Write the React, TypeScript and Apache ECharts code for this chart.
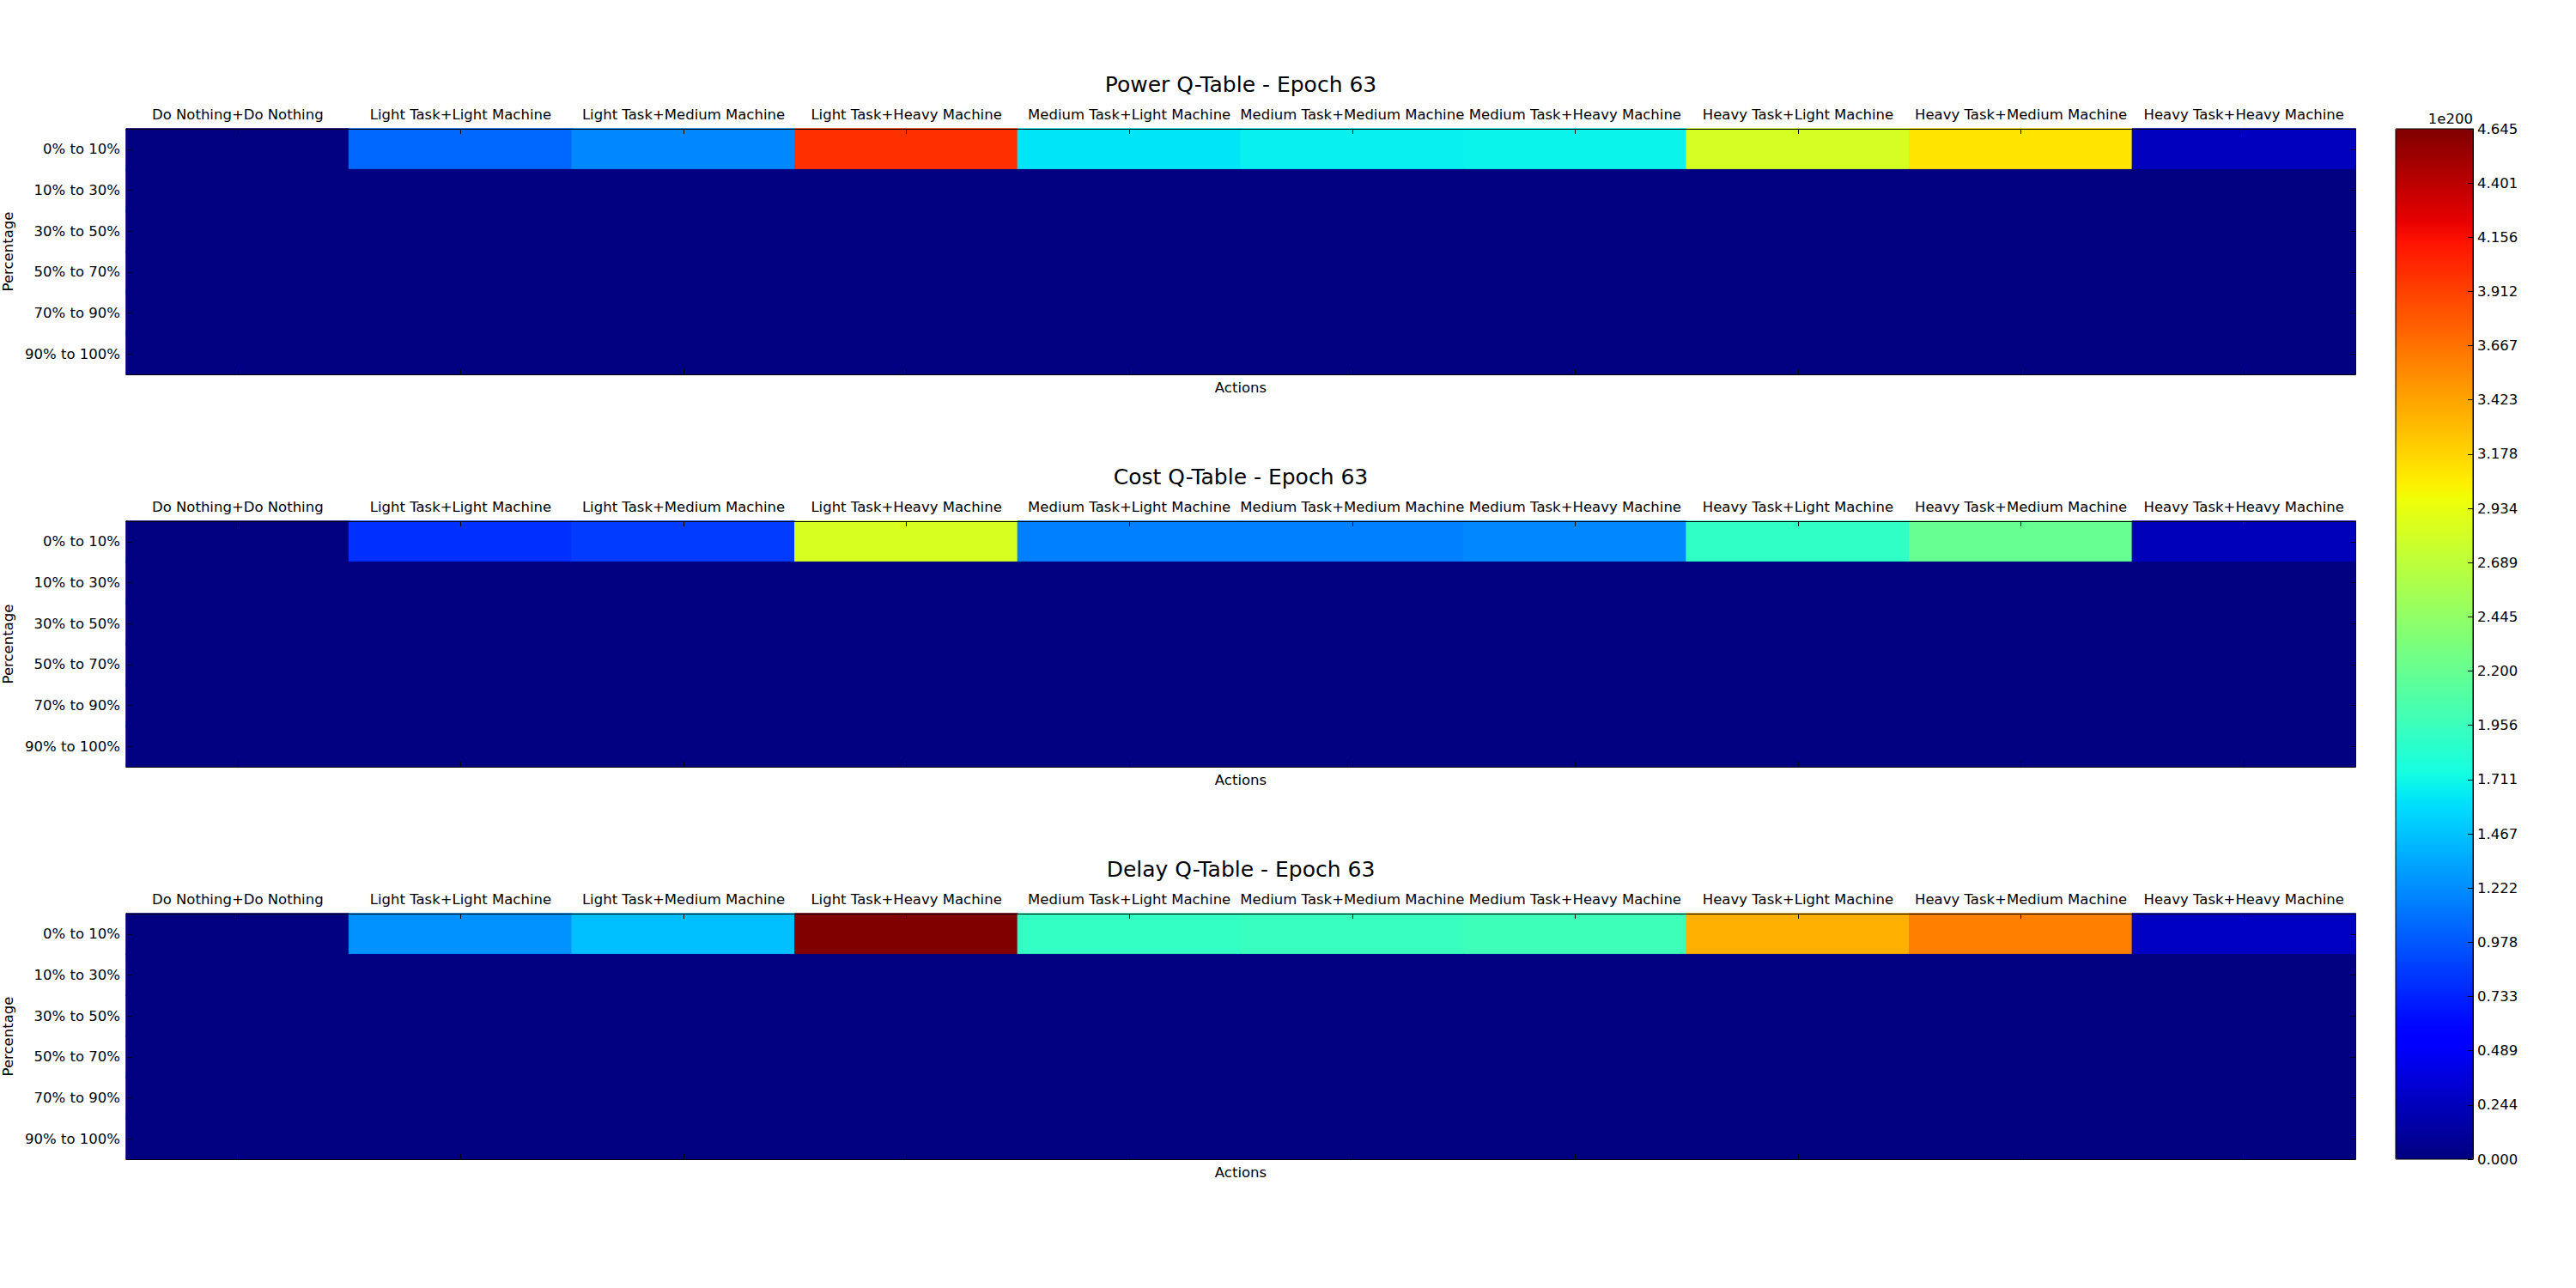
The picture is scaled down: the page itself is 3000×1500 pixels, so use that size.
import React, { useEffect, useRef } from "react";
import * as echarts from "echarts";

// ---------- DATA ----------
const ACTIONS = [
  "Do Nothing+Do Nothing",
  "Light Task+Light Machine",
  "Light Task+Medium Machine",
  "Light Task+Heavy Machine",
  "Medium Task+Light Machine",
  "Medium Task+Medium Machine",
  "Medium Task+Heavy Machine",
  "Heavy Task+Light Machine",
  "Heavy Task+Medium Machine",
  "Heavy Task+Heavy Machine",
];

const PERCENTAGES = ["0% to 10%", "10% to 30%", "30% to 50%", "50% to 70%", "70% to 90%", "90% to 100%"];

const TITLES = ["Power Q-Table - Epoch 63", "Cost Q-Table - Epoch 63", "Delay Q-Table - Epoch 63"];

// Values in units of 1e200
const POWER_Q = [
  [0, 1.05, 1.2, 3.99, 1.63, 1.67, 1.69, 2.83, 3.1, 0.25],
  [0, 0, 0, 0, 0, 0, 0, 0, 0, 0],
  [0, 0, 0, 0, 0, 0, 0, 0, 0, 0],
  [0, 0, 0, 0, 0, 0, 0, 0, 0, 0],
  [0, 0, 0, 0, 0, 0, 0, 0, 0, 0],
  [0, 0, 0, 0, 0, 0, 0, 0, 0, 0],
];

const COST_Q = [
  [0, 0.8, 0.85, 2.84, 1.16, 1.16, 1.2, 1.9, 2.2, 0.24],
  [0, 0, 0, 0, 0, 0, 0, 0, 0, 0],
  [0, 0, 0, 0, 0, 0, 0, 0, 0, 0],
  [0, 0, 0, 0, 0, 0, 0, 0, 0, 0],
  [0, 0, 0, 0, 0, 0, 0, 0, 0, 0],
  [0, 0, 0, 0, 0, 0, 0, 0, 0, 0],
];

const DELAY_Q = [
  [0, 1.24, 1.45, 4.645, 1.91, 1.94, 1.97, 3.36, 3.6, 0.27],
  [0, 0, 0, 0, 0, 0, 0, 0, 0, 0],
  [0, 0, 0, 0, 0, 0, 0, 0, 0, 0],
  [0, 0, 0, 0, 0, 0, 0, 0, 0, 0],
  [0, 0, 0, 0, 0, 0, 0, 0, 0, 0],
  [0, 0, 0, 0, 0, 0, 0, 0, 0, 0],
];

const COLOR_MIN = 0;
const COLOR_MAX = 4.645;
const SCALE_LABEL = "1e200";
const COLORBAR_TICKS = [
  0.0, 0.244, 0.489, 0.733, 0.978, 1.222, 1.467, 1.711, 1.956, 2.2, 2.445, 2.689, 2.934, 3.178, 3.423, 3.667,
  3.912, 4.156, 4.401, 4.645,
];

// ---------- STYLE / LAYOUT ----------
const FONT = "DejaVu Sans";
const PLOT_LEFT = 147;
const PLOT_WIDTH = 2596;
const PLOT_TOPS = [150, 607, 1064];
const PLOT_HEIGHT = 286;
const CB = { left: 2790, top: 150, width: 90, height: 1200 };

// matplotlib "jet" colormap segment data
const JET_R = [[0, 0], [0.35, 0], [0.66, 1], [0.89, 1], [1, 0.5]];
const JET_G = [[0, 0], [0.125, 0], [0.375, 1], [0.64, 1], [0.91, 0], [1, 0]];
const JET_B = [[0, 0.5], [0.11, 1], [0.34, 1], [0.65, 0], [1, 0]];

function seg(t: number, pts: number[][]) {
  for (let i = 1; i < pts.length; i++) {
    if (t <= pts[i][0]) {
      const [x0, y0] = pts[i - 1];
      const [x1, y1] = pts[i];
      return y0 + ((t - x0) / (x1 - x0)) * (y1 - y0);
    }
  }
  return pts[pts.length - 1][1];
}

function jetColor(t: number) {
  const tt = Math.max(0, Math.min(1, t));
  const r = Math.round(seg(tt, JET_R) * 255);
  const g = Math.round(seg(tt, JET_G) * 255);
  const b = Math.round(seg(tt, JET_B) * 255);
  return `rgb(${r},${g},${b})`;
}

const JET_STOPS: string[] = [];
for (let i = 0; i <= 200; i++) JET_STOPS.push(jetColor(i / 200));

const textBase = { fontFamily: FONT, color: "#000", fontSize: 16.5 };
const frameLine = { show: true, onZero: false, lineStyle: { color: "#000", width: 1 } };
const innerTick = { show: true, inside: true, alignWithLabel: true, length: 6, lineStyle: { color: "#000", width: 1 } };

export default function App() {
  const ref = useRef<HTMLDivElement>(null);

  useEffect(() => {
    if (!ref.current) return;
    const chart = echarts.init(ref.current, null, { renderer: "svg" });
    const tables = [POWER_Q, COST_Q, DELAY_Q];

    const grids: any[] = PLOT_TOPS.map((top) => ({
      left: PLOT_LEFT,
      top,
      width: PLOT_WIDTH,
      height: PLOT_HEIGHT,
      containLabel: false,
      outerBoundsMode: "none",
    }));
    grids.push({
      left: CB.left,
      top: CB.top,
      width: CB.width,
      height: CB.height,
      containLabel: false,
      outerBoundsMode: "none",
    });

    const xAxis: any[] = [];
    const yAxis: any[] = [];
    const series: any[] = [];

    tables.forEach((tbl, i) => {
      xAxis.push({
        type: "category",
        gridIndex: i,
        data: ACTIONS,
        position: "top",
        z: 10,
        axisLine: frameLine,
        axisTick: innerTick,
        axisLabel: { ...textBase, interval: 0, margin: 8, hideOverlap: false },
        splitLine: { show: false },
      });
      xAxis.push({
        type: "category",
        gridIndex: i,
        data: ACTIONS,
        position: "bottom",
        z: 10,
        name: "Actions",
        nameLocation: "middle",
        nameGap: 7,
        nameTextStyle: { ...textBase, verticalAlign: "top" },
        axisLine: frameLine,
        axisTick: innerTick,
        axisLabel: { show: false },
        splitLine: { show: false },
      });
      yAxis.push({
        type: "category",
        gridIndex: i,
        data: PERCENTAGES,
        inverse: true,
        position: "left",
        z: 10,
        name: "Percentage",
        nameLocation: "middle",
        nameGap: 124,
        nameRotate: 90,
        nameTextStyle: { ...textBase },
        axisLine: frameLine,
        axisTick: innerTick,
        axisLabel: { ...textBase, interval: 0, margin: 7 },
        splitLine: { show: false },
      });
      yAxis.push({
        type: "category",
        gridIndex: i,
        data: PERCENTAGES,
        inverse: true,
        position: "right",
        z: 10,
        axisLine: frameLine,
        axisTick: innerTick,
        axisLabel: { show: false },
        splitLine: { show: false },
      });

      const cells: any[] = [];
      tbl.forEach((row, r) =>
        row.forEach((v, c) =>
          cells.push({
            value: [c, r, v],
            // border in the cell's own colour hides anti-aliasing seams between cells
            itemStyle: { borderWidth: 1, borderColor: jetColor((v - COLOR_MIN) / (COLOR_MAX - COLOR_MIN)) },
          })
        )
      );
      series.push({
        type: "heatmap",
        name: TITLES[i],
        xAxisIndex: 2 * i,
        yAxisIndex: 2 * i,
        data: cells,
        emphasis: { disabled: true },
      });
    });

    // colorbar axis
    xAxis.push({ type: "value", gridIndex: 3, show: false });
    yAxis.push({
      type: "value",
      gridIndex: 3,
      min: COLOR_MIN,
      max: COLOR_MAX,
      position: "right",
      z: 10,
      name: SCALE_LABEL,
      nameLocation: "end",
      nameGap: 3,
      nameTextStyle: { ...textBase, align: "right", verticalAlign: "bottom" },
      axisLine: frameLine,
      axisTick: { show: true, inside: true, length: 6, lineStyle: { color: "#000" }, customValues: COLORBAR_TICKS },
      axisLabel: {
        ...textBase,
        customValues: COLORBAR_TICKS,
        showMinLabel: true,
        showMaxLabel: true,
        margin: 5,
        formatter: (v: number) => v.toFixed(3),
      },
      splitLine: { show: false },
    });

    chart.setOption({
      animation: false,
      backgroundColor: "#fff",
      title: TITLES.map((t, i) => ({
        text: t,
        left: PLOT_LEFT + PLOT_WIDTH / 2,
        top: PLOT_TOPS[i] - 64,
        textAlign: "center",
        padding: 0,
        textStyle: { fontFamily: FONT, fontSize: 25, fontWeight: "normal", color: "#000" },
      })),
      grid: grids,
      xAxis,
      yAxis,
      visualMap: {
        type: "continuous",
        min: COLOR_MIN,
        max: COLOR_MAX,
        seriesIndex: [0, 1, 2],
        inRange: { color: JET_STOPS },
        show: true,
        calculable: false,
        orient: "vertical",
        left: CB.left,
        top: CB.top,
        itemWidth: CB.width,
        itemHeight: CB.height,
        padding: 0,
        text: null,
      },
      graphic: [
        {
          type: "rect",
          shape: { x: CB.left, y: CB.top, width: CB.width, height: CB.height },
          style: { fill: "rgba(0,0,0,0)", stroke: "#000", lineWidth: 1 },
          z: 100,
          silent: true,
        },
      ],
      series,
    });

    return () => chart.dispose();
  }, []);

  return (
    <div
      ref={ref}
      style={{ position: "absolute", left: 0, top: 0, width: 3000, height: 1500, background: "#fff" }}
    />
  );
}
